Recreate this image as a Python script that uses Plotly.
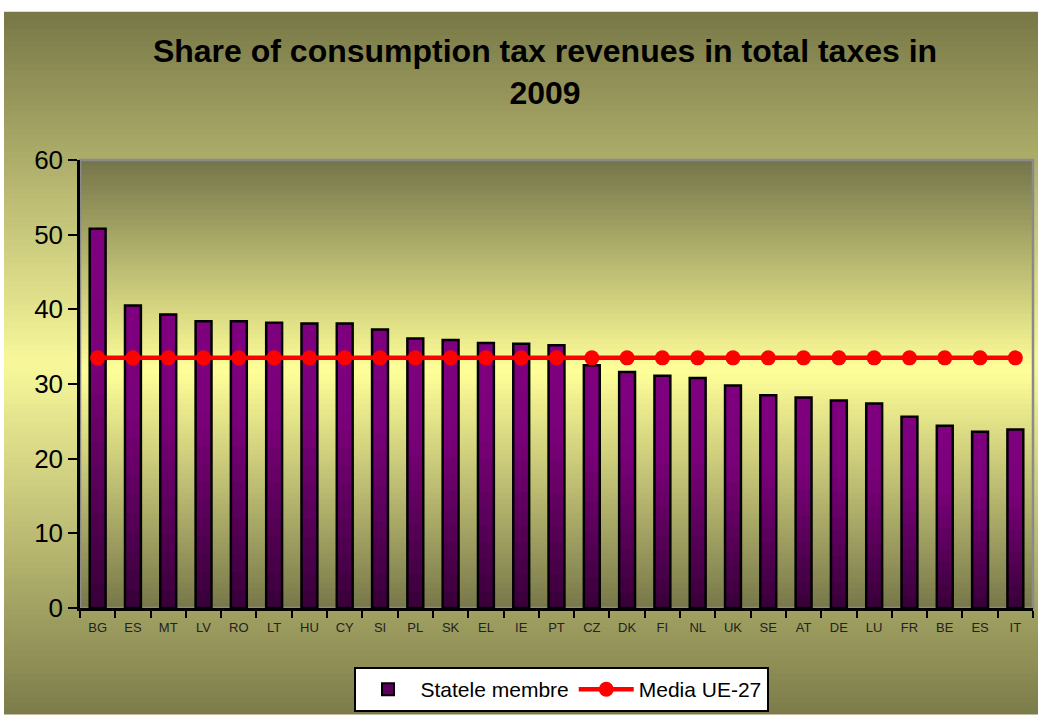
import plotly.graph_objects as go

# ---------------- data ----------------
countries = ["BG", "ES", "MT", "LV", "RO", "LT", "HU", "CY", "SI", "PL", "SK", "EL", "IE", "PT",
             "CZ", "DK", "FI", "NL", "UK", "SE", "AT", "DE", "LU", "FR", "BE", "ES", "IT"]
member_states = [50.8, 40.5, 39.3, 38.4, 38.4, 38.2, 38.1, 38.1, 37.3, 36.1, 35.9, 35.5, 35.4, 35.2,
                 32.5, 31.6, 31.1, 30.8, 29.8, 28.5, 28.2, 27.8, 27.4, 25.6, 24.4, 23.6, 23.9]
eu27_mean = [33.5] * len(countries)
y_ticks = [0, 10, 20, 30, 40, 50, 60]

title_text = "Share of consumption tax revenues in total taxes in<br>2009"
bar_name = "Statele membre"
line_name = "Media UE-27"

# ---------------- helpers ----------------
def hex2rgb(h):
    h = h.lstrip("#")
    return tuple(int(h[i:i + 2], 16) for i in (0, 2, 4))

def grad(stops, t):
    for (t0, c0), (t1, c1) in zip(stops[:-1], stops[1:]):
        if t0 <= t <= t1:
            f = (t - t0) / (t1 - t0) if t1 > t0 else 0
            a, b = hex2rgb(c0), hex2rgb(c1)
            r = [round(a[i] + (b[i] - a[i]) * f) for i in range(3)]
            return "rgb(%d,%d,%d)" % tuple(r)
    return stops[-1][1]

W, H = 1038, 717
ML, MR, MT, MB = 80, 5, 160, 107
pw = W - ML - MR
ph = H - MT - MB

def px2x(px):
    return (px - ML) / pw

def py2y(py):
    return (H - MB - py) / ph

x_idx = list(range(len(countries)))

fig = go.Figure()

# bar gradient: nested bars, tallest (top colour) first, shorter darker ones over them
N = 16
bar_stops = [(0, "#800080"), (0.35, "#7a007a"), (1, "#380038")]
for k in range(N - 1, -1, -1):
    t_from_top = 1 - (k + 0.5) / N
    fig.add_trace(go.Bar(
        x=x_idx,
        y=[v * (k + 1) / N for v in member_states],
        width=0.45,
        marker=dict(color=grad(bar_stops, t_from_top), line=dict(width=0, color="rgba(0,0,0,0)")),
        showlegend=False, hoverinfo="skip",
    ))

# outline of bars
fig.add_trace(go.Bar(
    x=x_idx, y=member_states, width=0.45,
    marker=dict(color="rgba(0,0,0,0)", line=dict(color="black", width=2.5)),
    showlegend=False, name=bar_name,
))
# legend entry for bars
fig.add_trace(go.Bar(
    x=[None], y=[None], name=bar_name,
    marker=dict(color="#5c005c", line=dict(color="black", width=2)),
))

# EU-27 mean
fig.add_trace(go.Scatter(
    x=x_idx, y=eu27_mean, mode="lines+markers", name=line_name,
    line=dict(color="#ff0000", width=4.5),
    marker=dict(color="#ff0000", size=15, symbol="circle"),
))

shapes = []
noline = dict(width=0, color="rgba(0,0,0,0)")
# outer chart area gradient
outer_stops = [(0, "#777747"), (0.5, "#f8f89b"), (1, "#7c7c4a")]
top_px, bot_px = 11, 717
nb = 120
for i in range(nb):
    y0p = top_px + (bot_px - top_px) * i / nb
    y1p = min(top_px + (bot_px - top_px) * (i + 1) / nb + 2, bot_px)
    shapes.append(dict(type="rect", xref="paper", yref="paper",
                       x0=px2x(4), x1=px2x(1038), y0=py2y(y1p), y1=py2y(y0p),
                       fillcolor=grad(outer_stops, (i + 0.5) / nb), line=noline,
                       layer="below"))
# plot area gradient
plot_stops = [(0, "#74744a"), (0.47, "#ffff99"), (1, "#77774a")]
nb2 = 90
for i in range(nb2):
    y1 = 1 - i / nb2
    y0 = max(1 - (i + 1) / nb2 - 2.0 / ph, 0)
    shapes.append(dict(type="rect", xref="paper", yref="paper",
                       x0=0, x1=1, y0=y0, y1=y1,
                       fillcolor=grad(plot_stops, (i + 0.5) / nb2), line=noline,
                       layer="below"))
# plot area border (grey)
shapes.append(dict(type="rect", xref="paper", yref="paper", x0=0, x1=1, y0=0, y1=1,
                   line=dict(color="#8a8a8a", width=2.5), fillcolor="rgba(0,0,0,0)",
                   layer="below"))

FONT = "Liberation Sans, Arial, sans-serif"
fig.update_layout(
    width=W, height=H,
    margin=dict(l=ML, r=MR, t=MT, b=MB),
    paper_bgcolor="white",
    plot_bgcolor="rgba(0,0,0,0)",
    barmode="overlay",
    shapes=shapes,
    font=dict(family=FONT, color="black"),
    title=dict(text=title_text, x=px2x(545), xref="paper", xanchor="center",
               y=1 - 62 / H, yref="container", yanchor="middle",
               font=dict(size=32, family=FONT, color="black", weight="bold")),
    legend=dict(orientation="h", x=px2x(561), xanchor="center", y=py2y(692), yanchor="middle",
                bgcolor="white", bordercolor="black", borderwidth=2,
                font=dict(size=21, color="black"), itemwidth=55,
                traceorder="normal"),
    xaxis=dict(range=[-0.5, len(countries) - 0.5], tickmode="array", tickvals=x_idx,
               ticktext=countries, ticks="", showgrid=False, zeroline=False,
               showline=True, linecolor="black", linewidth=2.5,
               tickfont=dict(size=13, color="#222222"), ticklabelstandoff=6,
               minor=dict(tickmode="array", tickvals=[i - 0.5 for i in range(len(countries) + 1)],
                          ticks="outside", ticklen=7, tickwidth=2, tickcolor="black",
                          showgrid=False)),
    yaxis=dict(range=[0, 60], tickmode="array", tickvals=y_ticks, showgrid=False,
               zeroline=False, showline=True, linecolor="black", linewidth=2.5,
               ticks="outside", ticklen=9, tickwidth=2, tickcolor="black",
               tickfont=dict(size=26, color="black")),
)

fig.write_html("out.html", config={"displayModeBar": False},
               post_script="document.body.style.margin='0';")
